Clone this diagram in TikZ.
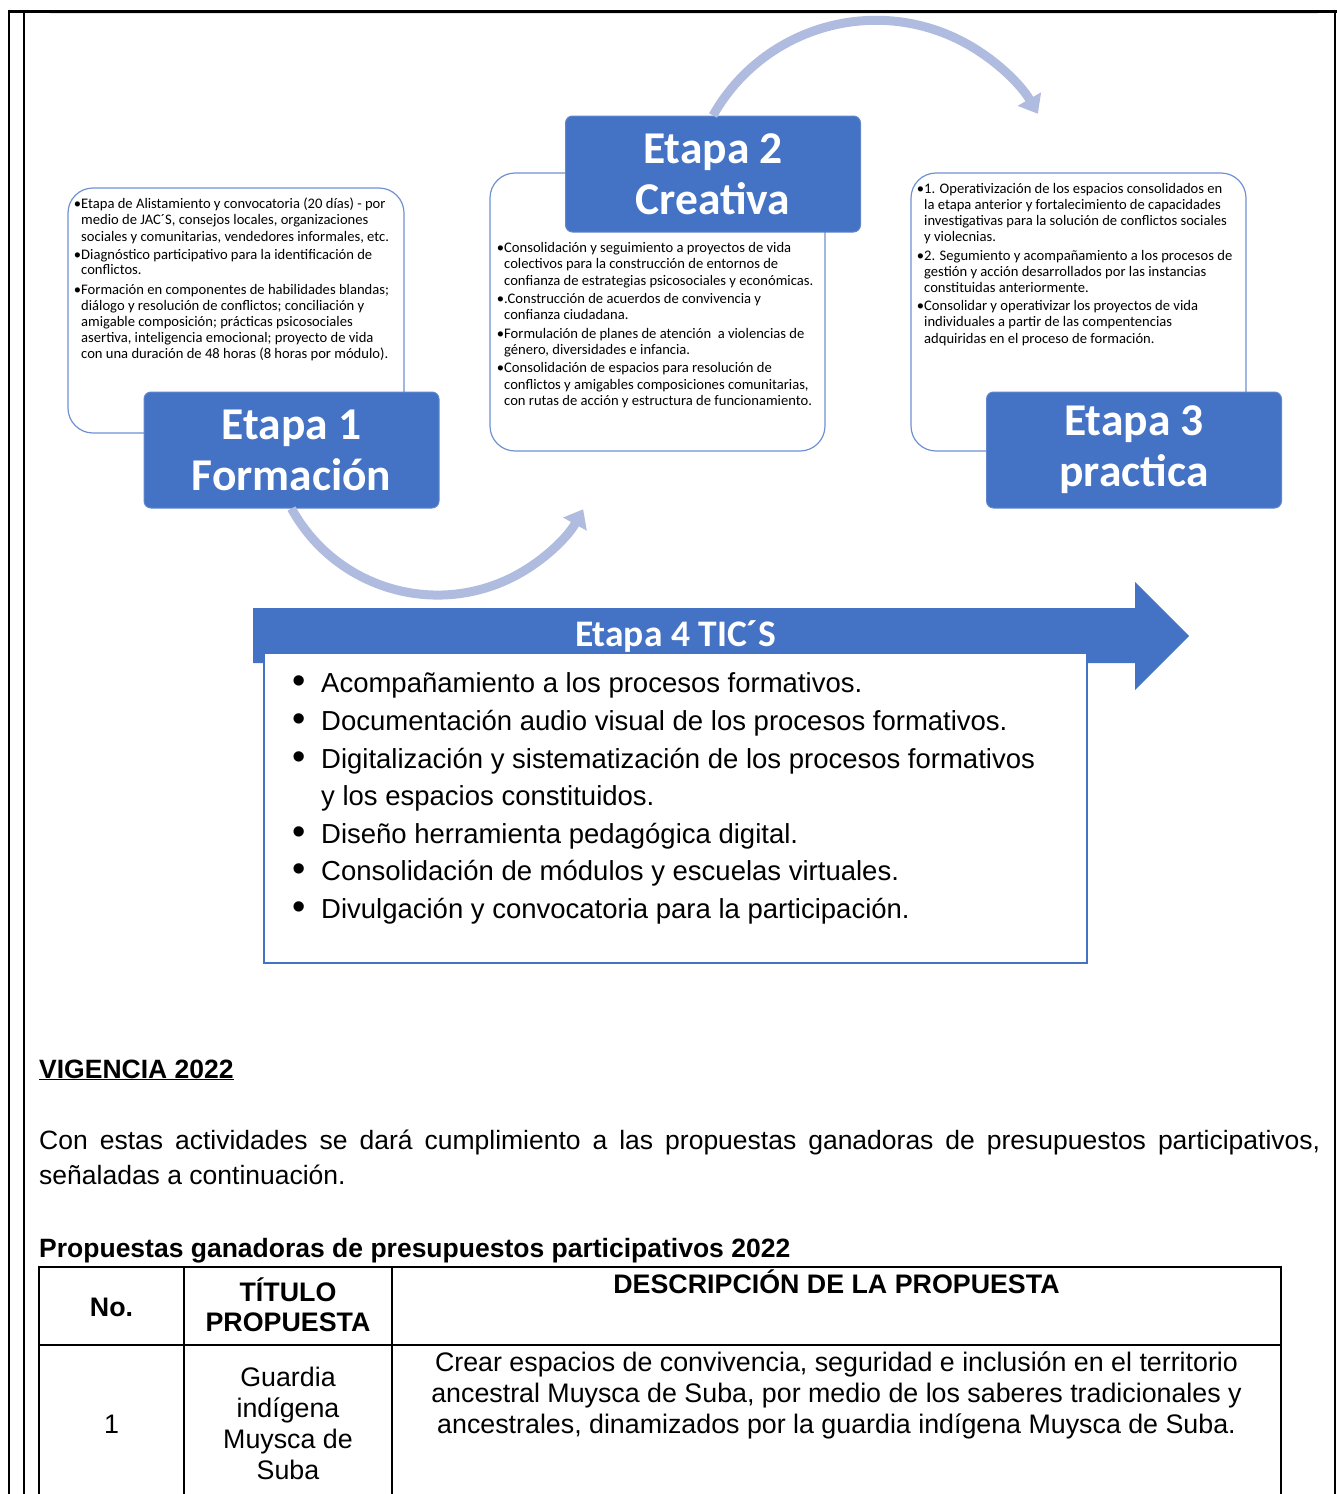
\documentclass[tikz,border=0pt]{standalone}
\usepackage{fontspec}
\setmainfont{Liberation Sans}
\newfontfamily\calfont{Carlito}
\usetikzlibrary{arrows.meta}
\definecolor{etblue}{RGB}{68,114,196}
\definecolor{arcblue}{RGB}{175,187,223}
\definecolor{boxline}{RGB}{110,145,210}
\newcommand\sln[4]{\node[smalltext] (#1) at (#2,#3) {#4};}
\newcommand\bln[4]{\node[bigitem] (#1) at (#2,#3) {#4};}
\newcommand\bigbul{\llap{\raisebox{-1pt}{\fontsize{38}{38}\selectfont•}\hspace{15pt}}}
\begin{document}
\begin{tikzpicture}[x=1pt,y=-1pt,
  stagebox/.style={rectangle, rounded corners=7pt, fill=etblue, draw=etblue!85!white, line width=1pt,
    minimum width=295pt, minimum height=116pt, text=white,
    font=\calfont\bfseries\fontsize{45.5}{51}\selectfont, align=center, inner sep=0pt},
  textbox/.style={rectangle, rounded corners=25pt, fill=white, draw=boxline, line width=1.2pt, inner sep=0pt},
  smalltext/.style={anchor=base west, inner sep=0pt, font=\calfont\fontsize{14.6}{16}\selectfont},
  bigitem/.style={anchor=base west, inner sep=0pt, font=\fontsize{27.5}{32}\selectfont},
  curvearrow/.style={draw=arcblue, line width=9pt, -{Triangle[width=26pt,length=17pt]}},
  frame/.style={line width=2.5pt, black},
  tline/.style={line width=2pt, black},
  celltext/.style={anchor=base, inner sep=0pt, font=\fontsize{26.8}{31}\selectfont},
  bodytext/.style={anchor=base west, inner sep=0pt, font=\fontsize{26.5}{31}\selectfont}
]
\useasboundingbox (0,0) rectangle (1337,1494);

% page frame
\draw[gray!20, line width=1.5pt] (50,13.5) -- (1318,13.5);
\draw[frame] (9,10) -- (9,1494);
\draw[frame] (24,10) -- (24,1494);
\draw[frame] (1335,11) -- (1335,1494);
\draw[line width=3pt] (7.75,11) -- (1337,11);

% text boxes
\node[textbox, minimum width=336pt, minimum height=245pt] (t1) at (236,310.5) {};
\node[textbox, minimum width=335pt, minimum height=278pt] (t2) at (657.5,312) {};
\node[textbox, minimum width=335pt, minimum height=278pt] (t3) at (1078.5,312) {};

% stage boxes
\node[stagebox] (e1) at (291.5,450) {Etapa 1\\Formación};
\node[stagebox] (e2) at (713,174) {Etapa 2\\Creativa};
\node[stagebox] (e3) at (1134,450) {Etapa 3\\practica};

% curved arrows
\draw[curvearrow] (e2.north) arc[start angle=-150.6, end angle=-30, radius=187];
\draw[curvearrow] (e1.south) arc[start angle=151.3, end angle=29, radius=166.5];

% box 1 text
\sln{a1}{81}{208}{\llap{•}Etapa de Alistamiento y convocatoria (20 días) - por}
\sln{a2}{81}{224}{medio de JAC´S, consejos locales, organizaciones}
\sln{a3}{81}{241}{sociales y comunitarias, vendedores informales, etc.}
\sln{a4}{81}{259}{\llap{•}Diagnóstico participativo para la identificación de}
\sln{a5}{81}{274}{conflictos.}
\sln{a6}{81}{294}{\llap{•}Formación en componentes de habilidades blandas;}
\sln{a7}{81}{310}{diálogo y resolución de conflictos; conciliación y}
\sln{a8}{81}{326}{amigable composición; prácticas psicosociales}
\sln{a9}{81}{342}{asertiva, inteligencia emocional; proyecto de vida}
\sln{a10}{81}{358}{con una duración de 48 horas (8 horas por módulo).}

% box 2 text
\sln{b1}{504}{252}{\llap{•}Consolidación y seguimiento a proyectos de vida}
\sln{b2}{504}{268}{colectivos para la construcción de entornos de}
\sln{b3}{504}{285}{confianza de estrategias psicosociales y económicas.}
\sln{b4}{504}{303}{\llap{•}.Construcción de acuerdos de convivencia y}
\sln{b5}{504}{319}{confianza ciudadana.}
\sln{b6}{504}{338}{\llap{•}Formulación de planes de atención\ \ a violencias de}
\sln{b7}{504}{354}{género, diversidades e infancia.}
\sln{b8}{504}{372}{\llap{•}Consolidación de espacios para resolución de}
\sln{b9}{504}{389}{conflictos y amigables composiciones comunitarias,}
\sln{b10}{504}{405}{con rutas de acción y estructura de funcionamiento.}

% box 3 text
\sln{c1}{924}{193}{\llap{•}1. Operativización de los espacios consolidados en}
\sln{c2}{924}{209}{la etapa anterior y fortalecimiento de capacidades}
\sln{c3}{924}{225}{investigativas para la solución de conflictos sociales}
\sln{c4}{924}{241}{y violecnias.}
\sln{c5}{924}{260}{\llap{•}2. Segumiento y acompañamiento a los procesos de}
\sln{c6}{924}{276}{gestión y acción desarrollados por las instancias}
\sln{c7}{924}{292}{constituidas anteriormente.}
\sln{c8}{924}{310}{\llap{•}Consolidar y operativizar los proyectos de vida}
\sln{c9}{924}{326}{individuales a partir de las compentencias}
\sln{c10}{924}{343}{adquiridas en el proceso de formación.}

% Etapa 4 arrow
\fill[etblue] (253,608) -- (1135,608) -- (1135,582) -- (1189,636) -- (1135,690) -- (1135,663) -- (253,663) -- cycle;
\node[rectangle, fill=white, draw=etblue, line width=1.2pt, minimum width=823pt, minimum height=310pt, inner sep=0pt] (b4) at (675.5,808) {};
\node[text=white, inner sep=0pt, font=\calfont\bfseries\fontsize{37.5}{42}\selectfont] (e4) at (675.5,636) {Etapa 4 TIC´S};

\bln{d1}{321}{692}{\bigbul Acompañamiento a los procesos formativos.}
\bln{d2}{321}{730}{\bigbul Documentación audio visual de los procesos formativos.}
\bln{d3}{321}{768}{\bigbul Digitalización y sistematización de los procesos formativos}
\bln{d4}{321}{805}{y los espacios constituidos.}
\bln{d5}{321}{843}{\bigbul Diseño herramienta pedagógica digital.}
\bln{d6}{321}{880}{\bigbul Consolidación de módulos y escuelas virtuales.}
\bln{d7}{321}{918}{\bigbul Divulgación y convocatoria para la participación.}

% body text
\node[bodytext] (vig) at (39,1078) {\textbf{\underline{VIGENCIA 2022}}};
\node[bodytext] (p1) at (39,1149) {\makebox[1281pt][s]{Con estas actividades se dará cumplimiento a las propuestas ganadoras de presupuestos participativos,}};
\node[bodytext] (p2) at (39,1184) {señaladas a continuación.};
\node[bodytext] (p3) at (39,1257) {\textbf{Propuestas ganadoras de presupuestos participativos 2022}};

% table
\draw[tline] (39,1494) -- (39,1267) -- (1281,1267) -- (1281,1494);
\draw[tline] (39,1345) -- (1281,1345);
\draw[tline] (184,1267) -- (184,1494);
\draw[tline] (392,1267) -- (392,1494);

\node[celltext] (h1) at (111.5,1316) {\textbf{No.}};
\node[celltext] (h2a) at (288,1301) {\textbf{TÍTULO}};
\node[celltext] (h2b) at (288,1331) {\textbf{PROPUESTA}};
\node[celltext] (h3) at (836.5,1293) {\textbf{DESCRIPCIÓN DE LA PROPUESTA}};

\node[celltext] (r1) at (111.5,1433) {1};
\node[celltext] (r2a) at (288,1386) {Guardia};
\node[celltext] (r2b) at (288,1417) {indígena};
\node[celltext] (r2c) at (288,1448) {Muysca de};
\node[celltext] (r2d) at (288,1479) {Suba};
\node[celltext] (r3a) at (836.5,1371) {Crear espacios de convivencia, seguridad e inclusión en el territorio};
\node[celltext] (r3b) at (836.5,1402) {ancestral Muysca de Suba, por medio de los saberes tradicionales y};
\node[celltext] (r3c) at (836.5,1433) {ancestrales, dinamizados por la guardia indígena Muysca de Suba.};
\end{tikzpicture}
\end{document}
